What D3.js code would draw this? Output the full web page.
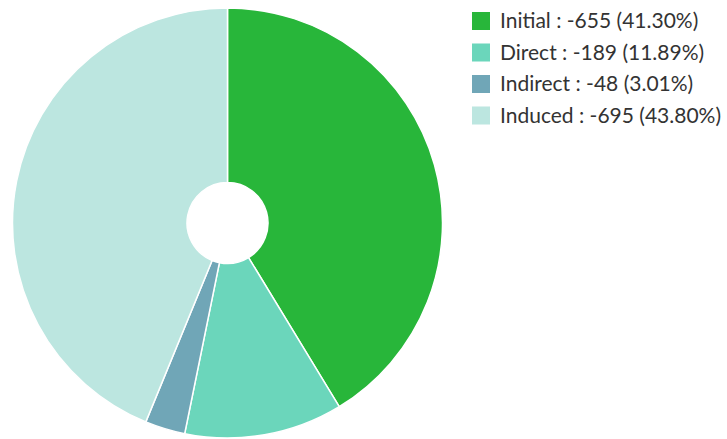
<!DOCTYPE html>
<html>
<head>
<meta charset="utf-8">
<script src="https://cdn.jsdelivr.net/npm/d3@7"></script>
<style>
  body { margin: 0; background: #fff; }
  #chart { width: 727px; height: 439px; }
  .legendText { font-family: Lato, sans-serif; font-size: 21px; fill: #333; }
</style>
</head>
<body>
<div id="chart"></div>
<script>
  "use strict";
  // data
  const categories = ["Initial", "Direct", "Indirect", "Induced"];
  const values = [-655, -189, -48, -695];
  const shares = [41.30, 11.89, 3.01, 43.80];
  const colors = ["#28b63a", "#6bd6bb", "#70a6b7", "#bce6e0"];

  const svgWidth = 727, svgHeight = 439;
  const cx = 227.5, cy = 223, outerR = 215, innerR = 40.5;

  const svg = d3.select("#chart").append("svg")
    .attr("width", svgWidth)
    .attr("height", svgHeight);

  const rows = categories.map((c, i) => ({ name: c, value: values[i], share: shares[i], color: colors[i] }));

  const pie = d3.pie().sort(null).value((d) => d.share);
  const arc = d3.arc().innerRadius(innerR).outerRadius(outerR);

  svg.append("g")
    .attr("transform", "translate(" + cx + "," + cy + ")")
    .selectAll("path")
    .data(pie(rows))
    .enter()
    .append("path")
    .attr("d", arc)
    .attr("fill", (d) => d.data.color)
    .attr("stroke", "#fff")
    .attr("stroke-width", 1.5);

  // legend
  const legend = svg.append("g").attr("transform", "translate(472,12)");
  const item = legend.selectAll("g")
    .data(rows)
    .enter()
    .append("g")
    .attr("transform", (d, i) => "translate(0," + i * 31.5 + ")");
  item.append("rect")
    .attr("width", 18)
    .attr("height", 18)
    .attr("fill", (d) => d.color);
  item.append("text")
    .attr("class", "legendText")
    .attr("x", 28)
    .attr("y", 9)
    .attr("dy", "0.35em")
    .text((d) => `${d.name} : ${d.value} (${d.share.toFixed(2)}%)`);
</script>
</body>
</html>
